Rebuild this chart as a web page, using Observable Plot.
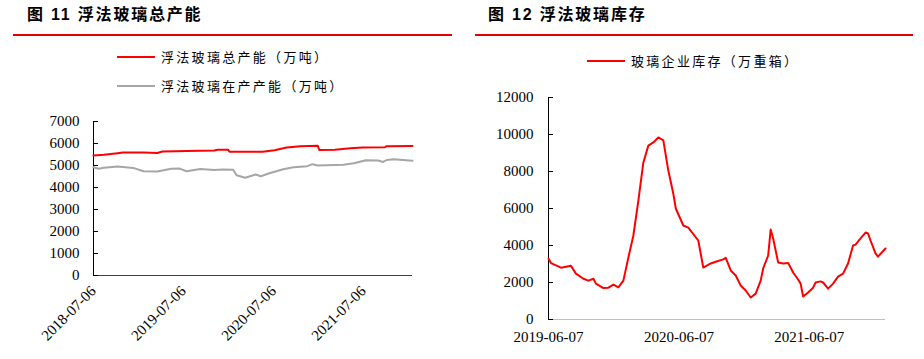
<!DOCTYPE html>
<html>
<head>
<meta charset="utf-8">
<script src="https://cdn.jsdelivr.net/npm/d3@7"></script>
<script src="https://cdn.jsdelivr.net/npm/@observablehq/plot@0.6"></script>
<style>
  body { margin: 0; background: #fff; }
  #root { position: relative; width: 924px; height: 359px; overflow: hidden; background: #fff; }
  .title { position: absolute; top: 5px; font-family: "Liberation Sans", "Noto Sans CJK SC", sans-serif; font-weight: bold; font-size: 16px; line-height: 20px; letter-spacing: 1.8px; color: #000; white-space: nowrap; }
  .rule { position: absolute; top: 34px; height: 2px; background: #e60000; }
  .leg { position: absolute; display: flex; align-items: center; font-family: "Noto Sans CJK SC", sans-serif; font-size: 13px; letter-spacing: 2.3px; color: #000; white-space: nowrap; line-height: 16px; }
  .leg .sw { width: 38px; height: 2px; margin-right: 6px; }
  .chart { position: absolute; }
</style>
</head>
<body>
<div id="root">
  <div class="title" id="t1" style="left:27px"></div>
  <div class="rule" style="left:13px;width:439px"></div>
  <div class="title" id="t2" style="left:488px"></div>
  <div class="rule" style="left:475px;width:438px"></div>
  <div id="legL"></div>
  <div id="legR"></div>
  <div class="chart" id="left" style="left:0;top:100px"></div>
  <div class="chart" id="right" style="left:462px;top:80px"></div>
</div>
<script>
// ---------- titles & series names ----------
const titleLeft = "图 11 浮法玻璃总产能";
const titleRight = "图 12 浮法玻璃库存";
const seriesTotalName = "浮法玻璃总产能（万吨）";
const seriesRunningName = "浮法玻璃在产产能（万吨）";
const seriesInvName = "玻璃企业库存（万重箱）";

// ---------- left: float glass total capacity ----------
const capTotalDates = ["2018-07-06","2018-08-17","2018-10-12","2018-11-02","2019-01-25","2019-03-22","2019-04-12","2019-07-19","2019-11-08","2019-11-22","2020-01-03","2020-01-10","2020-05-22","2020-07-10","2020-08-14","2020-08-28","2020-10-23","2021-01-01","2021-01-08","2021-03-12","2021-05-14","2021-07-02","2021-10-01","2021-10-08","2022-01-21"];
const capTotal = [5450,5490,5560,5590,5590,5570,5640,5660,5680,5720,5720,5620,5620,5690,5780,5820,5880,5900,5700,5720,5780,5820,5830,5880,5890];

const capRunDates = ["2018-07-06","2018-07-27","2018-08-17","2018-10-12","2018-12-14","2019-01-25","2019-03-22","2019-05-17","2019-06-21","2019-07-19","2019-09-13","2019-11-08","2019-12-13","2020-01-24","2020-02-07","2020-03-13","2020-04-24","2020-05-15","2020-06-19","2020-08-14","2020-09-25","2020-11-20","2020-12-11","2021-01-01","2021-04-16","2021-05-28","2021-07-16","2021-09-03","2021-09-24","2021-10-08","2021-11-05","2022-01-21"];
const capRunning = [4920,4850,4900,4950,4890,4740,4730,4850,4860,4740,4840,4790,4820,4810,4560,4440,4590,4510,4650,4830,4920,4970,5060,5000,5030,5100,5240,5230,5160,5250,5280,5220];

const leftXTicks = ["2018-07-06","2019-07-06","2020-07-06","2021-07-06"];
const leftYTicks = [0,1000,2000,3000,4000,5000,6000,7000];

// ---------- right: glass inventory ----------
const invDates = ["2019-06-07","2019-06-14","2019-07-12","2019-08-09","2019-08-23","2019-09-13","2019-09-27","2019-10-11","2019-10-18","2019-11-08","2019-11-22","2019-12-06","2019-12-20","2020-01-03","2020-01-17","2020-01-31","2020-02-14","2020-02-28","2020-03-13","2020-03-27","2020-04-10","2020-04-24","2020-05-08","2020-05-22","2020-05-29","2020-06-19","2020-07-03","2020-07-31","2020-08-14","2020-09-04","2020-09-18","2020-10-09","2020-10-16","2020-10-30","2020-11-13","2020-11-27","2020-12-11","2020-12-25","2021-01-08","2021-01-22","2021-01-29","2021-02-12","2021-02-19","2021-02-26","2021-03-12","2021-03-26","2021-04-09","2021-04-23","2021-05-07","2021-05-14","2021-05-21","2021-06-04","2021-06-18","2021-06-25","2021-07-09","2021-07-16","2021-07-30","2021-08-13","2021-08-27","2021-09-10","2021-09-24","2021-10-08","2021-10-15","2021-10-29","2021-11-12","2021-11-19","2021-11-26","2021-12-10","2021-12-17","2022-01-07"];
const inventory = [3280,3050,2800,2900,2480,2200,2100,2200,1940,1700,1720,1890,1740,2100,3350,4540,6430,8490,9400,9570,9840,9680,8050,6800,6000,5080,4970,4270,2810,3030,3120,3250,3330,2650,2380,1840,1570,1190,1400,2100,2760,3460,4860,4380,3080,3030,3060,2540,2160,1940,1240,1460,1720,2000,2060,2000,1670,1940,2320,2480,3030,4000,4050,4380,4700,4650,4270,3570,3400,3840];

const rightXTicks = ["2019-06-07","2020-06-07","2021-06-07"];
const rightYTicks = [0,2000,4000,6000,8000,10000,12000];

// ---------- build ----------
const parse = d3.utcParse("%Y-%m-%d");
const fmt = d3.utcFormat("%Y-%m-%d");
const RED = "#ff0000", GRAY = "#a6a6a6";

document.getElementById("t1").textContent = titleLeft;
document.getElementById("t2").textContent = titleRight;

function legendItem(parentId, name, color, left, cy) {
  const el = document.createElement("div");
  el.className = "leg";
  el.style.left = left + "px";
  el.style.top = (cy - 8) + "px";
  el.innerHTML = `<div class="sw" style="background:${color}"></div><span></span>`;
  el.querySelector("span").textContent = name;
  document.getElementById(parentId).appendChild(el);
}
legendItem("legL", seriesTotalName, RED, 117, 57);
legendItem("legL", seriesRunningName, GRAY, 117, 86);
legendItem("legR", seriesInvName, RED, 587, 61);

const totalData = capTotalDates.map((d, i) => ({date: parse(d), value: capTotal[i]}));
const runData = capRunDates.map((d, i) => ({date: parse(d), value: capRunning[i]}));
const invData = invDates.map((d, i) => ({date: parse(d), value: inventory[i]}));

const leftXDomain = [parse(capTotalDates[0]), parse(capTotalDates[capTotalDates.length - 1])];
const rightXDomain = [parse(invDates[0]), parse(invDates[invDates.length - 1])];

const axisFont = {fontFamily: "'Liberation Serif', 'Times New Roman', serif", fontSize: "15px", color: "#000", background: "transparent", overflow: "visible"};

const leftPlot = Plot.plot({
  width: 462, height: 259,
  marginLeft: 93, marginRight: 50, marginTop: 21, marginBottom: 84,
  style: axisFont,
  x: {type: "utc", domain: leftXDomain},
  y: {domain: [0, 7000]},
  marks: [
    Plot.ruleY([leftYTicks[0]], {stroke: "#404040", strokeWidth: 1}),
    Plot.ruleX([leftXDomain[0]], {stroke: "#000", strokeWidth: 1}),
    Plot.axisY({ticks: leftYTicks, tickSize: -5, tickPadding: 19, tickFormat: d => String(d), label: null, stroke: "#000"}),
    Plot.axisX({ticks: leftXTicks.map(parse), tickFormat: fmt, tickRotate: -45, tickSize: 0, tickPadding: 13, label: null}),
    Plot.line(runData, {x: "date", y: "value", stroke: GRAY, strokeWidth: 2}),
    Plot.line(totalData, {x: "date", y: "value", stroke: RED, strokeWidth: 2})
  ]
});
document.getElementById("left").appendChild(leftPlot);

const rightPlot = Plot.plot({
  width: 462, height: 279,
  marginLeft: 86, marginRight: 39, marginTop: 17, marginBottom: 40,
  style: axisFont,
  x: {type: "utc", domain: rightXDomain},
  y: {domain: [0, 12000]},
  marks: [
    Plot.ruleY([rightYTicks[0]], {stroke: "#bfbfbf", strokeWidth: 1}),
    Plot.ruleX([rightXDomain[0]], {stroke: "#000", strokeWidth: 1}),
    Plot.axisY({ticks: rightYTicks, tickSize: -5, tickPadding: 20, tickFormat: d => String(d), label: null, stroke: "#000"}),
    Plot.axisX({ticks: rightXTicks.map(parse), tickFormat: fmt, tickSize: 0, tickPadding: 12, label: null}),
    Plot.line(invData, {x: "date", y: "value", stroke: RED, strokeWidth: 2})
  ]
});
document.getElementById("right").appendChild(rightPlot);
</script>
</body>
</html>
